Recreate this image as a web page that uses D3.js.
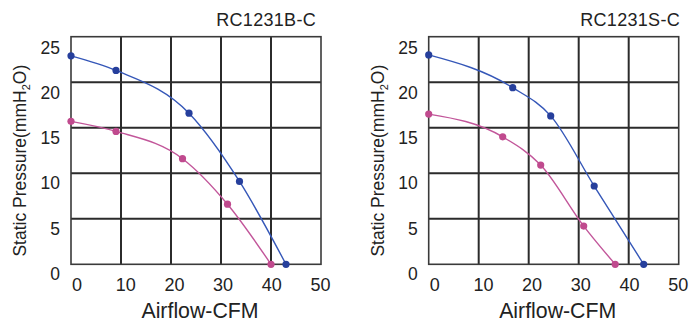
<!DOCTYPE html>
<html><head><meta charset="utf-8">
<script src="https://cdn.jsdelivr.net/npm/d3@7"></script>
<style>
body{margin:0;background:#fff;}
svg{display:block;}
text{font-family:"Liberation Sans",Arial,sans-serif;fill:#222;}
</style></head>
<body>
<script>
// ---- data ----
const xTicks = [0, 10, 20, 30, 40, 50];
const yTicks = [0, 5, 10, 15, 20, 25];
const titles = ["RC1231B-C", "RC1231S-C"];
const xTitle = "Airflow-CFM";

const leftBlueX  = [0, 9, 23.6, 33.7, 43];
const leftBlueY  = [22.9, 21.3, 16.6, 9.1, 0];
const leftPinkX  = [0, 9, 22.3, 31.3, 40];
const leftPinkY  = [15.7, 14.6, 11.6, 6.6, 0];

const rightBlueX = [0, 16.8, 24.4, 33.1, 43];
const rightBlueY = [23.0, 19.4, 16.3, 8.6, 0];
const rightPinkX = [0, 14.8, 22.4, 31.0, 37.3];
const rightPinkY = [16.5, 14.0, 10.9, 4.2, 0];

const W = 693, H = 322;
const svg = d3.select("body").append("svg").attr("width", W).attr("height", H);

const panels = [
  {left: 71, title: titles[0], titleRight: 316,
   series: [{x: leftBlueX, y: leftBlueY, line: "#3557b8", dot: "#263f9c"},
            {x: leftPinkX, y: leftPinkY, line: "#c2569a", dot: "#c04a8e"}]},
  {left: 428.7, title: titles[1], titleRight: 680,
   series: [{x: rightBlueX, y: rightBlueY, line: "#3557b8", dot: "#263f9c"},
            {x: rightPinkX, y: rightPinkY, line: "#c2569a", dot: "#c04a8e"}]}
];

const plotTop = 36.7, pw = 250, ph = 227.6;

panels.forEach(p => {
  const g = svg.append("g").attr("transform", `translate(${p.left},${plotTop})`);
  const x = d3.scaleLinear().domain([0, 50]).range([0, pw]);
  const y = d3.scaleLinear().domain([0, 25]).range([ph, 0]);
  // label scales (labels are offset from gridlines in the reference)
  const xl = d3.scaleLinear().domain([0, 50]).range([5.5, 249]);
  const yl = d3.scaleLinear().domain([0, 25]).range([ph + 9.3, 11.3]);

  // grid
  g.append("g").selectAll("line").data(xTicks.slice(1, -1)).join("line")
    .attr("x1", d => x(d)).attr("x2", d => x(d)).attr("y1", 0).attr("y2", ph)
    .attr("stroke", "#2b2b2b").attr("stroke-width", 2);
  g.append("g").selectAll("line").data(yTicks.slice(1, -1)).join("line")
    .attr("y1", d => y(d)).attr("y2", d => y(d)).attr("x1", 0).attr("x2", pw)
    .attr("stroke", "#2b2b2b").attr("stroke-width", 2);
  g.append("rect").attr("x", 0).attr("y", 0).attr("width", pw).attr("height", ph)
    .attr("fill", "none").attr("stroke", "#3a3a3a").attr("stroke-width", 1.6);

  // axes (labels only)
  const ax = g.append("g").attr("transform", `translate(0,${ph})`)
    .call(d3.axisBottom(xl).tickValues(xTicks).tickSize(0).tickPadding(13.6).tickFormat(d3.format("d")));
  ax.select(".domain").remove();
  ax.selectAll("text").attr("font-size", 18).attr("font-family", null).style("fill", "#222");

  const ay = g.append("g")
    .call(d3.axisLeft(yl).tickValues(yTicks).tickSize(0).tickPadding(11).tickFormat(d3.format("d")));
  ay.select(".domain").remove();
  ay.selectAll("text").attr("font-size", 17.5).attr("font-family", null).style("fill", "#222");

  // series
  p.series.forEach(s => {
    const pts = s.x.map((v, i) => [v, s.y[i]]);
    g.append("path").datum(pts)
      .attr("d", d3.line().x(d => x(d[0])).y(d => y(d[1])).curve(d3.curveMonotoneX))
      .attr("fill", "none").attr("stroke", s.line).attr("stroke-width", 1.4);
    g.append("g").selectAll("circle").data(pts).join("circle")
      .attr("cx", d => x(d[0])).attr("cy", d => y(d[1])).attr("r", 3.6)
      .attr("fill", s.dot);
  });

  // titles
  svg.append("text").attr("x", p.titleRight).attr("y", 25.5).attr("text-anchor", "end")
    .attr("font-size", 18).attr("letter-spacing", 0.3).text(p.title);
  svg.append("text").attr("x", p.left + pw / 2 + 4).attr("y", 318).attr("text-anchor", "middle")
    .attr("font-size", 21.3).text(xTitle);
  const yt = svg.append("text").attr("text-anchor", "middle").attr("font-size", 17.5)
    .attr("transform", `translate(${p.left - 45},${plotTop + 124}) rotate(-90)`);
  yt.append("tspan").text("Static Pressure(mmH");
  yt.append("tspan").attr("font-size", 11).attr("dy", 4).text("2");
  yt.append("tspan").attr("dy", -4).text("O)");
});
</script>
</body></html>
